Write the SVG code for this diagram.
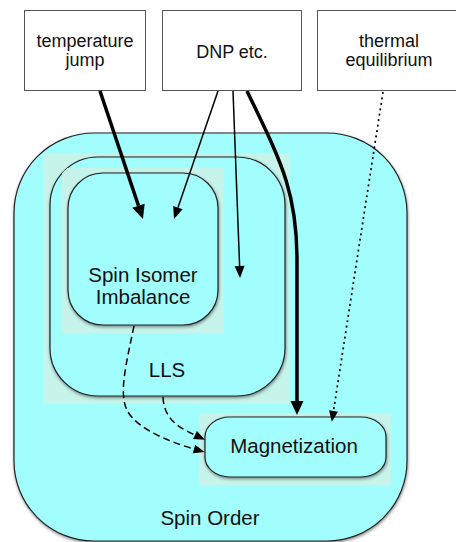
<svg xmlns="http://www.w3.org/2000/svg" width="456" height="542" viewBox="0 0 456 542">
<style>
.box{fill:#ffffff;stroke:#555555;stroke-width:1}
.rr{fill:#a2fdfd;stroke:#222222;stroke-width:1.2;filter:url(#sh)}
.bg{fill:#c6f4ea}
.t18{font-family:"Liberation Sans",Arial,sans-serif;font-size:18px;fill:#111111;text-anchor:middle}
.t20{font-family:"Liberation Sans",Arial,sans-serif;font-size:20.5px;fill:#111111;text-anchor:middle}
.thick{fill:none;stroke:#000;stroke-width:3.5}
.thin{fill:none;stroke:#000;stroke-width:1.5}
.dash{fill:none;stroke:#000;stroke-width:1.5;stroke-dasharray:7,4}
.dot{fill:none;stroke:#000;stroke-width:1.7;stroke-dasharray:2,3.5}
</style>
<defs>
<filter id="sh" x="-10%" y="-10%" width="120%" height="120%">
<feDropShadow dx="0.5" dy="1.5" stdDeviation="1.5" flood-color="#000" flood-opacity="0.45"/>
</filter>
<clipPath id="llsClip">
<rect x="50" y="157" width="235" height="239" rx="48" ry="48"/>
</clipPath>
<marker id="ahThick" markerUnits="userSpaceOnUse" markerWidth="16" markerHeight="14" refX="0" refY="0" orient="auto" overflow="visible">
<path d="M0,-6.5 L14,0 L0,6.5 z" fill="#000"/>
</marker>
<marker id="ahThin" markerUnits="userSpaceOnUse" markerWidth="14" markerHeight="10" refX="0" refY="0" orient="auto" overflow="visible">
<path d="M0,-5 L12,0 L0,5 z" fill="#000"/>
</marker>
<marker id="ahSmall" markerUnits="userSpaceOnUse" markerWidth="12" markerHeight="10" refX="0" refY="0" orient="auto" overflow="visible">
<path d="M0,-4.5 L11,0 L0,4.5 z" fill="#000"/>
</marker>
</defs>

<g id="spin-order">
<rect class="rr" x="14" y="133" width="393" height="408" rx="80" ry="80"/>
<text class="t20" x="210" y="525">Spin Order</text>
</g>

<g id="lls">
<rect class="bg" x="43" y="153" width="247" height="251"/>
<rect class="rr" x="50" y="157" width="235" height="239" rx="48" ry="48"/>
<text class="t20" x="167" y="377">LLS</text>
</g>

<g id="spin-isomer-imbalance">
<rect class="bg" x="62" y="168" width="162" height="165" clip-path="url(#llsClip)"/>
<rect class="rr" x="68" y="173" width="150" height="152" rx="35" ry="35"/>
<text class="t20" x="143" y="282">Spin Isomer</text>
<text class="t20" x="143" y="304">Imbalance</text>
</g>

<g id="magnetization">
<rect class="bg" x="199" y="413" width="192" height="72"/>
<rect class="rr" x="205" y="417" width="181" height="60" rx="25" ry="20"/>
<text class="t20" x="294" y="453">Magnetization</text>
</g>

<g id="temperature-jump">
<rect class="box" x="24.5" y="10.5" width="121" height="80"/>
<text class="t18" x="85" y="47">temperature</text>
<text class="t18" x="85" y="66">jump</text>
</g>

<g id="dnp">
<rect class="box" x="162.5" y="10.5" width="139" height="80"/>
<text class="t18" x="232" y="58">DNP etc.</text>
</g>

<g id="thermal-equilibrium">
<rect class="box" x="317.5" y="10.5" width="145" height="80"/>
<text class="t18" x="389" y="47">thermal</text>
<text class="t18" x="389" y="66">equilibrium</text>
</g>

<g id="connectors">
<path class="thick" d="M100,91 L138.5,205.7" marker-end="url(#ahThick)"/>
<path class="thin" d="M218,91 L177.9,207.7" marker-end="url(#ahThin)"/>
<path class="thin" d="M233,91 L239.6,266" marker-end="url(#ahThin)"/>
<path class="thick" d="M247,91 C280,160 297,190 297,260 L297,401" marker-end="url(#ahThick)"/>
<path class="dot" d="M383,92 L333.5,411" marker-end="url(#ahSmall)"/>
<path class="dash" d="M134,326 C126,365 118,395 128,412 C140,432 180,445 194,449" marker-end="url(#ahSmall)"/>
<path class="dash" d="M163,397 C164,420 180,428 195,435" marker-end="url(#ahSmall)"/>
</g>
</svg>
